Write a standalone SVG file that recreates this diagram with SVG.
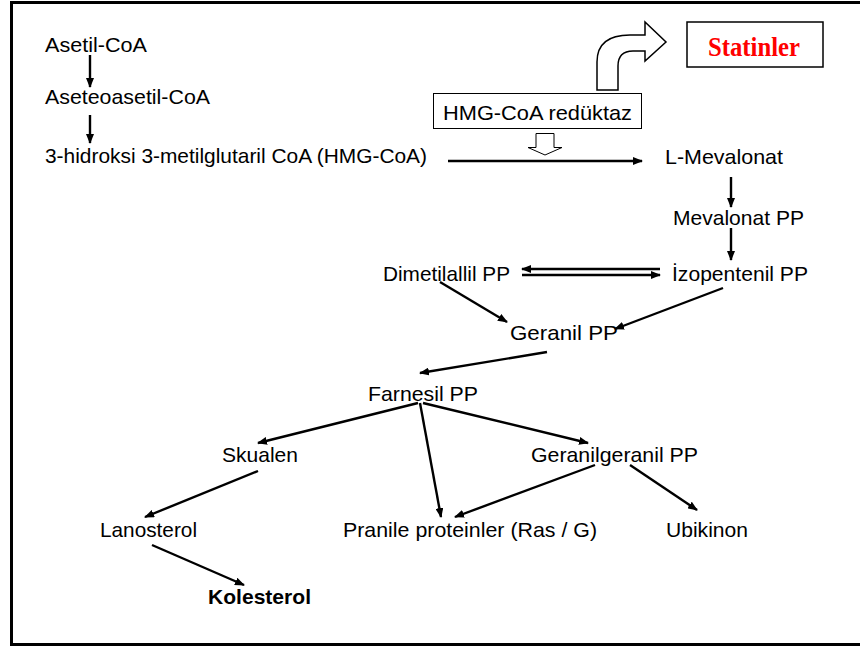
<svg xmlns="http://www.w3.org/2000/svg" width="860" height="648" viewBox="0 0 860 648">
<style>
.t{font-family:"Liberation Sans",Arial,sans-serif;font-size:21px;fill:#000}
.b{font-weight:bold}
.c{stroke:#000;stroke-width:2.4;fill:none;marker-end:url(#ah)}
</style>
<defs>
<marker id="ah" viewBox="0 0 10 8" markerWidth="10" markerHeight="8" markerUnits="userSpaceOnUse" refX="9" refY="4" orient="auto">
<path d="M0,0 L10,4 L0,8 z" fill="#000"/>
</marker>
</defs>
<rect x="0" y="0" width="860" height="648" fill="#fff"/>
<rect x="11.5" y="2.5" width="860" height="642" fill="none" stroke="#000" stroke-width="3"/>

<g id="statin-arrow">
<path d="M597,90 L597,62 Q597,35 630,35 L645,35 L645,22 L666,42 L645,61 L645,51 L633,51 Q618,51 618,66 L618,90 Z" fill="#fff" stroke="#000" stroke-width="1.5"/>
</g>
<g id="statinler">
<rect x="687" y="22" width="136" height="45" fill="#fff" stroke="#000" stroke-width="1.5"/>
<text x="708" y="56" textLength="92" lengthAdjust="spacingAndGlyphs" style="font-family:'Liberation Serif','Times New Roman',serif;font-size:27px;font-weight:bold;fill:#f00">Statinler</text>
</g>
<g id="hmg-reduktaz">
<rect x="433.5" y="93.5" width="208" height="35" fill="#fff" stroke="#000" stroke-width="1"/>
<text class="t" x="443" y="120" textLength="189" lengthAdjust="spacingAndGlyphs">HMG-CoA redüktaz</text>
<path d="M536,133.5 L554,133.5 L554,147.5 L562,147.5 L545,155 L528,147.5 L536,147.5 Z" fill="#fff" stroke="#000" stroke-width="1"/>
</g>

<g id="asetil"><text class="t" x="45" y="52" textLength="102" lengthAdjust="spacingAndGlyphs">Asetil-CoA</text></g>
<g id="aseteoasetil"><text class="t" x="45" y="104" textLength="165" lengthAdjust="spacingAndGlyphs">Aseteoasetil-CoA</text></g>
<g id="hmgcoa"><text class="t" x="45" y="163" textLength="382" lengthAdjust="spacingAndGlyphs">3-hidroksi 3-metilglutaril CoA (HMG-CoA)</text></g>
<g id="lmevalonat"><text class="t" x="665" y="164" textLength="118" lengthAdjust="spacingAndGlyphs">L-Mevalonat</text></g>
<g id="mevalonatpp"><text class="t" x="673" y="225" textLength="131" lengthAdjust="spacingAndGlyphs">Mevalonat PP</text></g>
<g id="dimetilallil"><text class="t" x="383" y="281" textLength="127" lengthAdjust="spacingAndGlyphs">Dimetilallil PP</text></g>
<g id="izopentenil"><text class="t" x="672" y="281" textLength="136" lengthAdjust="spacingAndGlyphs">İzopentenil PP</text></g>
<g id="geranil"><text class="t" x="510" y="340" textLength="108" lengthAdjust="spacingAndGlyphs">Geranil PP</text></g>
<g id="farnesil"><text class="t" x="368" y="401" textLength="110" lengthAdjust="spacingAndGlyphs">Farnesil PP</text></g>
<g id="skualen"><text class="t" x="222" y="462" textLength="76" lengthAdjust="spacingAndGlyphs">Skualen</text></g>
<g id="geranilgeranil"><text class="t" x="531" y="462" textLength="167" lengthAdjust="spacingAndGlyphs">Geranilgeranil PP</text></g>
<g id="lanosterol"><text class="t" x="100" y="537" textLength="97" lengthAdjust="spacingAndGlyphs">Lanosterol</text></g>
<g id="pranile"><text class="t" x="343" y="537" textLength="254" lengthAdjust="spacingAndGlyphs">Pranile proteinler (Ras / G)</text></g>
<g id="ubikinon"><text class="t" x="666" y="537" textLength="82" lengthAdjust="spacingAndGlyphs">Ubikinon</text></g>
<g id="kolesterol"><text class="t b" x="208" y="604" textLength="103" lengthAdjust="spacingAndGlyphs">Kolesterol</text></g>

<g id="connectors">
<line class="c" x1="90" y1="55" x2="90" y2="87"/>
<line class="c" x1="90" y1="115" x2="90" y2="143"/>
<line class="c" x1="448" y1="161" x2="642" y2="161"/>
<line class="c" x1="731" y1="177" x2="731" y2="207"/>
<line class="c" x1="731" y1="228" x2="731" y2="260"/>
<line class="c" x1="660" y1="269" x2="522" y2="269"/>
<line class="c" x1="522" y1="275" x2="660" y2="275"/>
<line class="c" x1="440" y1="282" x2="507" y2="322"/>
<line class="c" x1="723" y1="288" x2="615" y2="329"/>
<line class="c" x1="547" y1="352" x2="420" y2="373"/>
<line class="c" x1="418" y1="403" x2="258" y2="443"/>
<line class="c" x1="420" y1="403" x2="441" y2="517"/>
<line class="c" x1="423" y1="403" x2="588" y2="443"/>
<line class="c" x1="258" y1="471" x2="145" y2="517"/>
<line class="c" x1="152" y1="545" x2="244" y2="585"/>
<line class="c" x1="595" y1="465" x2="455" y2="517"/>
<line class="c" x1="630" y1="465" x2="697" y2="510"/>
</g>
</svg>
